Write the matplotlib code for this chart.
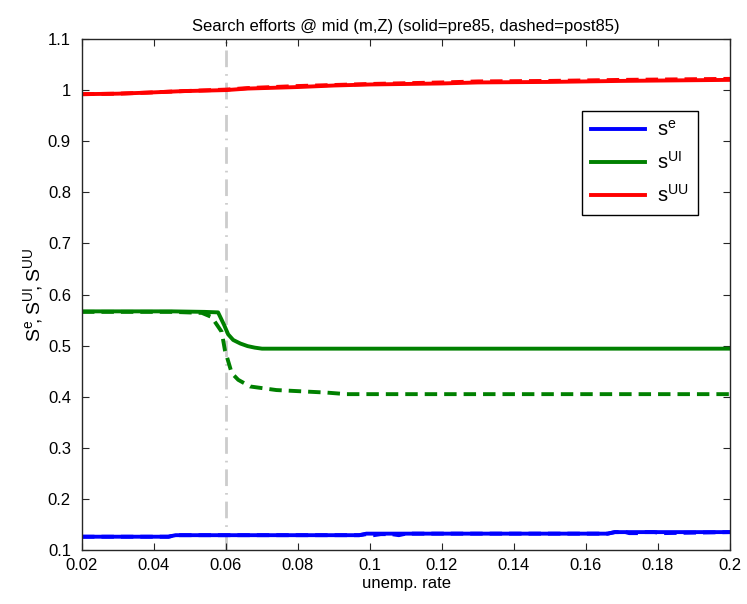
import matplotlib
matplotlib.use("Agg")
import matplotlib.pyplot as plt

plt.rcParams['font.family'] = ['Liberation Sans', 'DejaVu Sans']
plt.rcParams['mathtext.fontset'] = 'custom'
plt.rcParams['mathtext.rm'] = 'Liberation Sans'

# ---- data ----
x_red = [0.02, 0.03, 0.038, 0.048, 0.06, 0.066, 0.08, 0.09, 0.10, 0.12, 0.13, 0.15, 0.16, 0.17, 0.185, 0.20]
uu_pre = [0.992, 0.993, 0.995, 0.998, 1.000, 1.003, 1.006, 1.009, 1.011, 1.013, 1.015, 1.016, 1.017, 1.018, 1.019, 1.020]
uu_post = [0.992, 0.993, 0.995, 0.998, 1.001, 1.004, 1.008, 1.010, 1.012, 1.015, 1.017, 1.018, 1.019, 1.020, 1.021, 1.022]

x_blue = [0.02, 0.044, 0.046, 0.097, 0.099, 0.166, 0.168, 0.20]
e_pre = [0.126, 0.126, 0.129, 0.129, 0.132, 0.132, 0.135, 0.135]
x_blue_d = [0.02, 0.044, 0.046, 0.097, 0.099, 0.100, 0.101, 0.103, 0.106, 0.108, 0.110,
            0.166, 0.168, 0.171, 0.172, 0.175, 0.176, 0.179, 0.181, 0.20]
e_post = [0.126, 0.126, 0.129, 0.129, 0.131, 0.129, 0.129, 0.131, 0.131, 0.129, 0.132,
          0.132, 0.135, 0.135, 0.133, 0.133, 0.135, 0.135, 0.133, 0.135]

x_green = [0.02, 0.045, 0.054, 0.0578, 0.0595, 0.0606, 0.062, 0.064, 0.066, 0.068, 0.070, 0.20]
ui_pre = [0.567, 0.567, 0.566, 0.565, 0.540, 0.522, 0.511, 0.504, 0.499, 0.496, 0.494, 0.494]
x_green_d = [0.02, 0.045, 0.0533, 0.056, 0.0588, 0.0597, 0.0616, 0.0634, 0.0667, 0.074, 0.088, 0.0935, 0.20]
ui_post = [0.566, 0.566, 0.564, 0.556, 0.527, 0.491, 0.446, 0.433, 0.420, 0.413, 0.408, 0.405, 0.405]

break_x = 0.06

xticks = [0.02, 0.04, 0.06, 0.08, 0.10, 0.12, 0.14, 0.16, 0.18, 0.20]
xlabels = ['0.02', '0.04', '0.06', '0.08', '0.1', '0.12', '0.14', '0.16', '0.18', '0.2']
yticks = [0.1, 0.2, 0.3, 0.4, 0.5, 0.6, 0.7, 0.8, 0.9, 1.0, 1.1]
ylabels = ['0.1', '0.2', '0.3', '0.4', '0.5', '0.6', '0.7', '0.8', '0.9', '1', '1.1']

fig = plt.figure(figsize=(7.47, 6.04), dpi=100)
ax = fig.add_axes([82 / 747, 54 / 604, 648 / 747, 511 / 604])

lw = 2.8
dash = (0, (3.2, 1.8))
ax.axvline(break_x, color='#cccccc', lw=2.0, ls=(0, (6, 2.5, 0.6, 2.5)), zorder=1)

ax.plot(x_blue, e_pre, color='#0000ff', lw=lw, label=r'$\mathregular{s^{e}}$')
ax.plot(x_green, ui_pre, color='#008000', lw=lw, label=r'$\mathregular{s^{UI}}$')
ax.plot(x_red, uu_pre, color='#ff0000', lw=lw, label=r'$\mathregular{s^{UU}}$')
ax.plot(x_blue_d, e_post, color='#0000ff', lw=lw, ls=dash)
ax.plot(x_green_d, ui_post, color='#008000', lw=lw, ls=dash)
ax.plot(x_red, uu_post, color='#ff0000', lw=lw, ls=dash)

ax.set_xlim(0.02, 0.2)
ax.set_ylim(0.1, 1.1)
ax.set_xticks(xticks)
ax.set_xticklabels(xlabels)
ax.set_yticks(yticks)
ax.set_yticklabels(ylabels)
ax.tick_params(direction='in', top=True, right=True, length=5, width=0.8,
               labelsize=12, colors='#262626', labelcolor='black')
ax.tick_params(axis='x', pad=6)
ax.tick_params(axis='y', pad=8)
for s in ax.spines.values():
    s.set_color('#262626')
    s.set_linewidth(1.0)

ax.set_xlabel('unemp. rate', fontsize=12, labelpad=2)
ax.set_ylabel(r'$\mathregular{S^{e}\!,S^{UI}\!,S^{UU}}$', fontsize=14, labelpad=2)
ax.set_title('Search efforts @ mid (m,Z) (solid=pre85, dashed=post85)', fontsize=12, pad=6)

leg = ax.legend(loc='upper right', bbox_to_anchor=(0.9506, 0.859), fontsize=14.5,
                frameon=True, fancybox=False, edgecolor='black', framealpha=1,
                handlelength=2.7, borderpad=0.45, labelspacing=0.55, handletextpad=0.6,
                borderaxespad=0)
leg.get_frame().set_linewidth(1.0)

fig.savefig('out.png', dpi=100)
